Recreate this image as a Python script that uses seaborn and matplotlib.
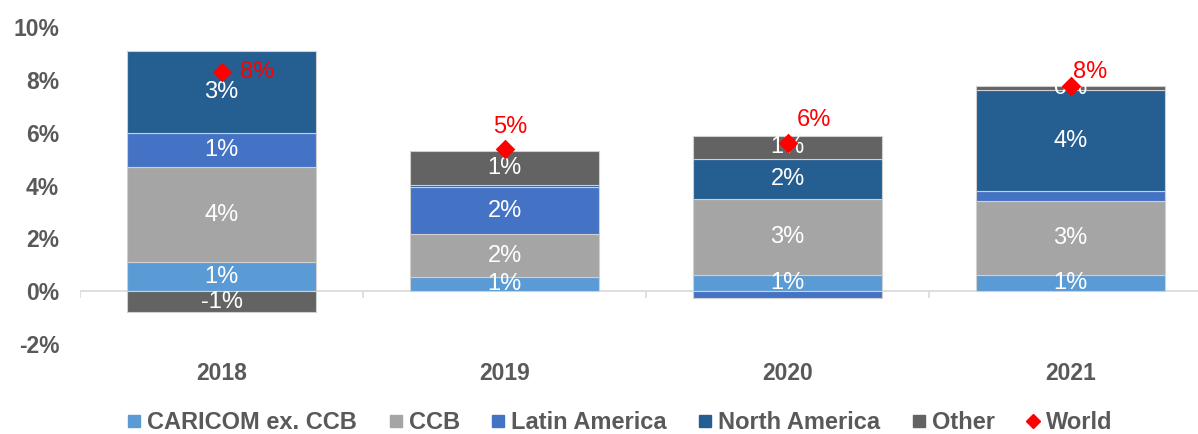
import numpy as np
import seaborn as sns
import matplotlib.pyplot as plt
from matplotlib.lines import Line2D

# data (percent)
years = ["2018", "2019", "2020", "2021"]
caricom = [1.1, 0.55, 0.6, 0.6]
ccb = [3.6, 1.6, 2.9, 2.8]
latam = [1.3, 1.8, -0.25, 0.4]
north_am = [3.1, 0.07, 1.52, 3.8]
other = [-0.8, 1.3, 0.85, 0.15]
world = [8.3, 5.38, 5.6, 7.77]

series_names = ["CARICOM ex. CCB", "CCB", "Latin America", "North America", "Other"]
series_vals = [caricom, ccb, latam, north_am, other]
colors = ["#5B9BD5", "#A5A5A5", "#4472C4", "#255E91", "#636363"]
# segment labels removed in the original chart
hidden = {("North America", "2019"), ("Latin America", "2020"), ("Latin America", "2021")}

sns.set_theme(style="white")
plt.rcParams["font.family"] = ["Liberation Sans", "DejaVu Sans"]
txt = "#595959"

fig, ax = plt.subplots(figsize=(11.98, 4.34), dpi=100)
fig.subplots_adjust(left=0.0668, right=1.0, top=0.938, bottom=0.207)

pos = np.arange(len(years))
pos_bottom = np.zeros(len(years))
neg_bottom = np.zeros(len(years))
for name, vals, col in zip(series_names, series_vals, colors):
    vals = np.array(vals, dtype=float)
    bottoms = np.where(vals >= 0, pos_bottom, neg_bottom)
    sns.barplot(x=years, y=vals, bottom=bottoms, color=col, width=0.67,
                edgecolor="#d0d0d0", linewidth=0.8, saturation=1, ax=ax,
                errorbar=None)
    for i, v in enumerate(vals):
        if (name, years[i]) in hidden:
            continue
        ax.text(pos[i], bottoms[i] + v / 2, f"{v:.0f}%", color="white",
                ha="center", va="center", fontsize=17)
    pos_bottom += np.where(vals >= 0, vals, 0)
    neg_bottom += np.where(vals < 0, vals, 0)

# world total markers
ax.scatter(pos, world, marker="D", s=100, color="red", zorder=5, linewidths=0)
offsets = [(13, 0, "left"), (4, 16, "center"), (19, 16.5, "center"), (14, 10, "center")]
for i, w in enumerate(world):
    dx, dy, ha = offsets[i]
    ax.annotate(f"{w:.0f}%", (pos[i], w), xytext=(dx, dy), textcoords="offset points",
                color="red", fontsize=17, ha=ha, va="center")

# zero line with category tick marks
ax.axhline(0, color="#d9d9d9", linewidth=1.2, zorder=0.5)
ax.vlines(np.arange(-0.5, len(years)), -0.25, 0, color="#d9d9d9", linewidth=1.2)

ax.set_xlim(-0.5, 3.45)
ax.set_ylim(-2, 10)
ax.set_yticks(np.arange(-2, 11, 2))
ax.set_yticklabels([f"{t}%" for t in range(-2, 11, 2)])
ax.set_xticks(pos)
ax.set_xticklabels(years)
ax.tick_params(axis="y", length=0, pad=15, labelsize=16.5, labelcolor=txt)
ax.tick_params(axis="x", length=0, pad=13, labelsize=16.5, labelcolor=txt)
for lab in ax.get_xticklabels() + ax.get_yticklabels():
    lab.set_fontweight("bold")
ax.set_xlabel("")
ax.set_ylabel("")
sns.despine(ax=ax, left=True, bottom=True)

handles = [Line2D([], [], marker="s", linestyle="", color=c, markersize=8) for c in colors]
handles.append(Line2D([], [], marker="D", linestyle="", color="red", markersize=7))
leg = fig.legend(handles, series_names + ["World"], loc="center", bbox_to_anchor=(0.518, 0.027),
                 ncol=6, frameon=False, handlelength=0.5, handletextpad=0.3,
                 columnspacing=1.38, prop={"size": 17, "weight": "bold"})
for t in leg.get_texts():
    t.set_color(txt)

fig.savefig("out.png", dpi=100)
